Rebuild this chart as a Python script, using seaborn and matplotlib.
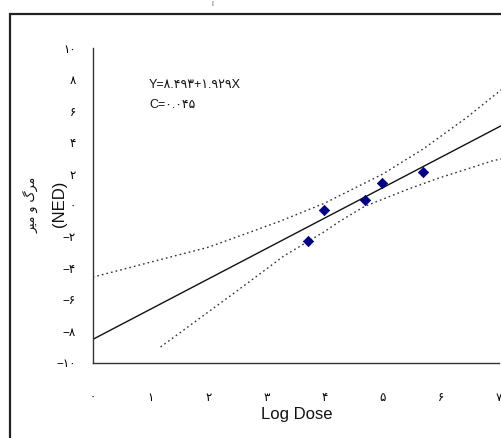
import matplotlib
matplotlib.use("Agg")
import matplotlib.pyplot as plt
import seaborn as sns
import pandas as pd
from matplotlib.patches import Rectangle

# ---- data ----
log_dose = [3.71, 3.99, 4.69, 4.99, 5.69]
ned = [-2.29, -0.27, 0.36, 1.44, 2.12]

fit_x = [0.0, 7.057]
fit_y = [-8.52, 5.10]

upper_x = [0.0, 1.0, 2.0, 2.71, 3.23, 4.0, 5.0, 5.7, 6.45, 7.057]
upper_y = [-4.56, -3.6, -2.65, -1.7, -1.0, 0.15, 2.0, 3.6, 5.6, 7.4]
lower_x = [1.17, 2.42, 3.3, 4.0, 4.26, 4.69, 5.07, 5.41, 5.93, 6.91, 7.057]
lower_y = [-9.0, -5.62, -3.2, -1.65, -1.0, -0.05, 0.5, 1.0, 1.7, 2.86, 2.97]

x_ticks = [0, 1, 2, 3, 4, 5, 6, 7]
x_tick_labels = ["۰", "۱", "۲", "۳", "۴", "۵", "۶", "۷"]
y_ticks = [-10, -8, -6, -4, -2, 0, 2, 4, 6, 8, 10]
y_tick_labels = ["−۱۰", "−۸", "−۶", "−۴", "−۲", "۰", "۲", "۴", "۶", "۸", "۱۰"]

equation_text = "Y=۸.۴۹۳+۱.۹۲۹X"
c_text = "C=۰.۰۴۵"
x_label = "Log Dose"
y_label_en = "(NED)"
# "مرگ و میر" in visual order with presentation forms
y_label_fa = "\uFEAE\uFBFF\uFEE3 \uFEED \uFB92\uFEAE\uFEE3"

sns.set_style("white")
plt.rcParams["font.family"] = ["Liberation Sans", "DejaVu Sans"]

W, H = 502, 438
fig = plt.figure(figsize=(W / 100, H / 100), dpi=100)

def px(x, y):
    return (x / W, 1 - y / H)

x0, x7, ytop, ybot = 92.7, 498.7, 48.3, 362.7
unit = (x7 - x0) / 7
xmax = (W - x0) / unit
ax = fig.add_axes([x0 / W, 1 - ybot / H, (W - x0) / W, (ybot - ytop) / H])
ax.set_facecolor("none")

df_pts = pd.DataFrame({"x": log_dose, "y": ned})
df_fit = pd.DataFrame({"x": fit_x, "y": fit_y})
df_up = pd.DataFrame({"x": upper_x, "y": upper_y})
df_lo = pd.DataFrame({"x": lower_x, "y": lower_y})

sns.lineplot(data=df_up, x="x", y="y", ax=ax, color="#333333", lw=1.0,
             linestyle=(0, (1.2, 2.2)), sort=False, estimator=None)
sns.lineplot(data=df_lo, x="x", y="y", ax=ax, color="#333333", lw=1.0,
             linestyle=(0, (1.2, 2.2)), sort=False, estimator=None)
sns.lineplot(data=df_fit, x="x", y="y", ax=ax, color="#111111", lw=1.0,
             sort=False, estimator=None)
sns.scatterplot(data=df_pts, x="x", y="y", ax=ax, marker="D", s=28,
                color="#000080", edgecolor="#000080", linewidth=0.5, zorder=5)

ax.set_xlim(0, xmax)
ax.set_ylim(-10, 10)
ax.set_xticks(x_ticks)
ax.set_xticklabels(x_tick_labels, fontsize=8.5)
ax.set_yticks(y_ticks)
ax.set_yticklabels(y_tick_labels, fontsize=8.5)
ax.set_xlabel("")
ax.set_ylabel("")
for s in ["top", "right"]:
    ax.spines[s].set_visible(False)
for s in ["left", "bottom"]:
    ax.spines[s].set_color("#333333")
    ax.spines[s].set_linewidth(1.0)
ax.spines["bottom"].set_bounds(0, 7)
ax.spines["left"].set_bounds(-10, 10)
ax.tick_params(axis="x", direction="out", length=5, width=1, color="#333333",
               pad=16, labelcolor="#000000")
ax.tick_params(axis="y", direction="out", length=6, width=1, color="#333333",
               pad=6, labelcolor="#000000")

# labels and annotations
fig.text(*px(297, 419), x_label, ha="center", va="baseline", fontsize=12, color="#111111")
fig.text(*px(59, 204), y_label_en, ha="center", va="center", rotation=90,
         fontsize=12, color="#111111")
fig.text(*px(31, 205), y_label_fa, ha="center", va="center", rotation=90,
         fontsize=9, color="#111111", family=["DejaVu Sans"])
fig.text(*px(149, 85), equation_text, ha="left", va="center", fontsize=9, color="#111111")
fig.text(*px(149, 105), c_text, ha="left", va="center", fontsize=9, color="#111111")
fig.text(*px(212, 4), "ا", ha="center", va="center", fontsize=5, color="#444444",
         family=["DejaVu Sans"])

# outer frame (cropped on right and bottom)
fig.add_artist(Rectangle(px(10, 480), 1.2, (480 - 13.5) / H, transform=fig.transFigure,
                         fill=False, lw=1.6, ec="#222222"))

fig.savefig("out.png", dpi=100)
